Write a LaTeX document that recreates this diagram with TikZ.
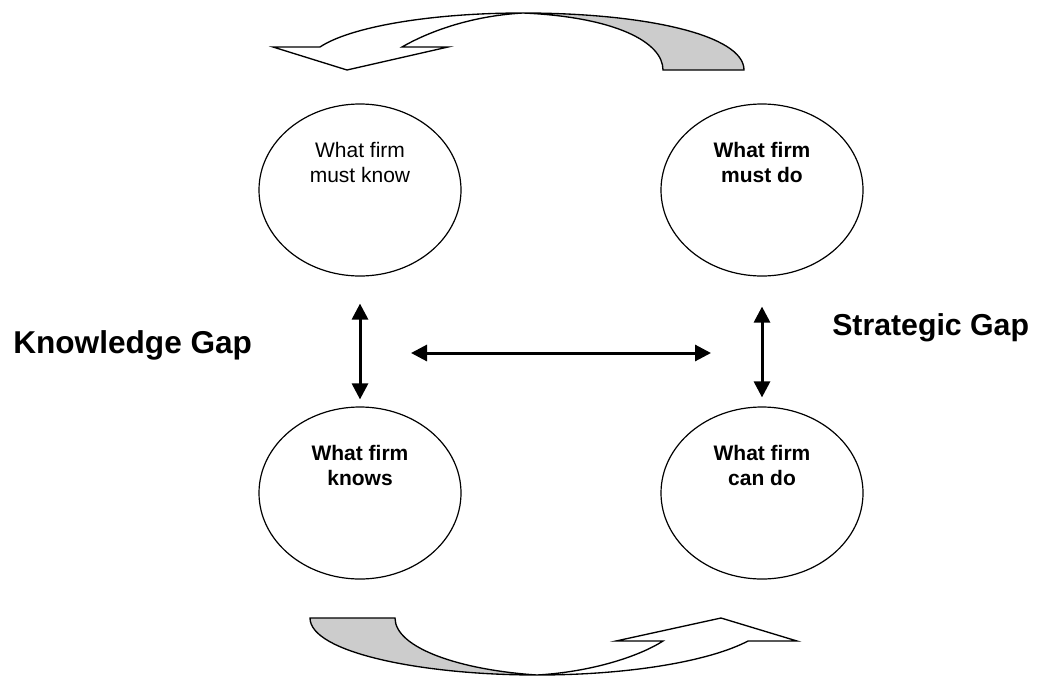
\documentclass[tikz,border=0pt]{standalone}
\usepackage{fontspec}
\setmainfont{Liberation Sans}
\usetikzlibrary{shapes.geometric,arrows.meta}
\begin{document}
\begin{tikzpicture}[x=0.75pt,y=-0.75pt,
  oval/.style={draw,ellipse,line width=0.9pt,minimum width=151.5pt,minimum height=129pt,inner sep=0pt},
  ovaltext/.style={align=center,inner sep=0pt,font=\fontsize{15.75}{18.75}\selectfont},
  boldovaltext/.style={ovaltext,font=\fontsize{15.75}{18.75}\selectfont\bfseries},
  gaplabel/.style={anchor=base west,inner sep=0pt},
  biarrow/.style={line width=2.25pt,{Triangle[length=12pt,width=12pt]}-{Triangle[length=12pt,width=12pt]}},
  bentarrow/.style={line width=1pt,line join=miter,draw=black},
  backface/.style={bentarrow,fill=black!20},
  frontface/.style={bentarrow,fill=white}]
\useasboundingbox (0,0) rectangle (1041,678);

% the four circles
\node[oval] (mk) at (360,190) {};
\node[oval] (md) at (762,190) {};
\node[oval] (kn) at (360,493) {};
\node[oval] (cd) at (762,493) {};

\node[ovaltext] (mkt) at (360,162) {What firm\\must know};
\node[boldovaltext] (mdt) at (762,162) {What firm\\must do};
\node[boldovaltext] (knt) at (360,465) {What firm\\knows};
\node[boldovaltext] (cdt) at (762,465) {What firm\\can do};

% gap labels
\node[gaplabel,font=\fontsize{23.7}{28}\selectfont\bfseries] (kg) at (13,353) {Knowledge Gap};
\node[gaplabel,font=\fontsize{22.7}{28}\selectfont\bfseries] (sg) at (832,335) {Strategic Gap};

% double-headed arrows
\draw[biarrow,shorten <=20.25pt,shorten >=5.25pt] (mk.south) -- (kn.north);
\draw[biarrow,shorten <=22.5pt,shorten >=6.75pt] (md.south) -- (cd.north);
\coordinate (hl) at (411,353);
\coordinate (hr) at (711,353);
\draw[biarrow] (hl) -- (hr);

% curved arrow across the top: shaded back, then white front with head
\path[backface] (663,70) .. controls (663,42) and (615,17) .. (523,13)
  .. controls (645,13) and (744,35) .. (744,70) -- cycle;
\path[frontface] (523,13) .. controls (430,13) and (350,27) .. (320,47)
  -- (273,47) -- (347,70) -- (448,47) -- (402,47)
  .. controls (428,32) and (470,16) .. (523,13) -- cycle;

% curved arrow across the bottom: shaded back, then white front with head
\path[backface] (310,618) -- (395,618) .. controls (395,648) and (460,670) .. (537,675)
  .. controls (420,675) and (310,652) .. (310,618) -- cycle;
\path[frontface] (537,675) .. controls (630,675) and (710,661) .. (748,641)
  -- (797,641) -- (721,618) -- (616,641) -- (663,641)
  .. controls (638,657) and (590,672) .. (537,675) -- cycle;
\end{tikzpicture}
\end{document}
